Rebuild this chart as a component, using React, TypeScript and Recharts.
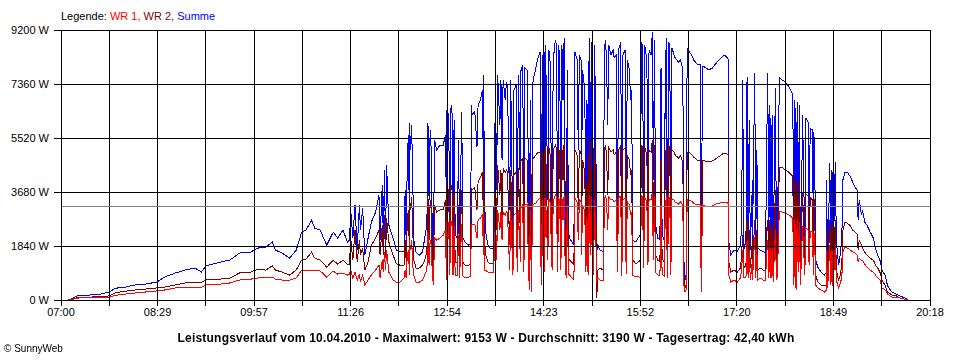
import React from 'react';
import { LineChart, Line, XAxis, YAxis, ReferenceLine } from 'recharts';

// minutes after 07:00
const TIME = [
  7, 13, 17, 27, 36, 44, 50, 59, 68, 77, 88, 95, 105, 114, 123, 129, 133, 146, 155, 164,
  174, 181, 188, 194, 197, 203, 210, 216, 221, 225, 230, 233, 238, 244, 250, 254, 259, 263, 265,
  266, 268, 270, 272, 274, 275, 277, 279, 282, 285, 289, 292, 293, 295, 296, 297, 298, 299, 301, 305,
  308, 311, 315, 316, 317, 318, 319, 320, 320, 321, 322, 323, 324, 326, 329, 332, 334, 336, 337, 338,
  339, 340, 341, 342, 343, 345, 348, 351, 353,
  354, 354, 356, 357, 358, 359, 360, 361, 362, 364, 365, 366, 368, 369, 371, 374, 376, 377, 377, 380,
  382, 383, 385, 387, 388, 388, 389, 390, 392, 394, 397, 398, 399, 399, 400, 401, 403, 404, 405, 406,
  408, 409, 410, 412, 413, 415, 416, 418, 419, 420, 422, 422, 424, 425, 426, 428, 429, 430, 431, 432,
  433, 434, 436, 438, 440, 441, 442, 443, 444, 444, 445, 447, 448, 449, 451, 452,
  454, 455, 456, 457, 458, 459, 460, 461, 462, 463, 464, 465, 466, 467, 469, 471, 472, 474, 475, 476,
  478, 478, 479, 481, 482, 483, 484, 485, 486, 487, 488, 489, 490, 491, 492, 493, 495, 498, 499, 500,
  501, 502, 503, 505, 507, 508, 510, 511, 511, 512, 514, 515, 516, 518, 519, 520, 522, 523, 524, 525,
  528, 530, 532, 533, 534, 535, 536, 538, 539, 540, 542, 543, 544, 545, 546, 548, 550,
  551, 552, 554, 555, 556, 556, 557, 558, 559, 560, 561, 563, 564, 567, 569, 571, 572, 573, 574, 575,
  576, 579, 581, 584, 587, 588, 589, 591, 595, 598, 601, 605, 609, 612, 613, 613, 615, 618, 621, 624,
  625,
  626, 627, 629, 630, 631, 632, 633, 635, 635, 637, 638, 639, 640, 642, 645, 647, 648, 649, 650, 651,
  652, 653, 654, 656, 657, 658, 659, 660, 662, 665, 668, 670, 672, 673, 674, 675, 676, 677, 678, 679,
  680, 681, 683, 684, 686, 687, 688, 690, 691, 691, 692, 693, 695, 698, 701, 703, 703, 704, 706, 707,
  708, 709, 711, 712, 714, 715, 717, 718, 720, 722, 725, 727, 729, 731, 732, 733, 735, 736, 738, 740,
  743, 746, 748, 750, 752, 754, 757, 759, 763, 767, 770, 775, 778,
];

const SUMME = [
  0, 100, 170, 170, 200, 270, 400, 440, 510, 540, 610, 780, 920, 1020, 1090, 950, 1160, 1290, 1360, 1600,
  1630, 1770, 1800, 1970, 1700, 1600, 1430, 1700, 2310, 2380, 2720, 2450, 2380, 1870, 2310, 2110, 2380, 1970, 2040,
  3070, 2110, 3240, 1700, 3240, 2380, 3130, 1530, 2110, 2660, 3000, 3580, 2040, 3920, 2110, 4430, 1870, 4600, 2560, 2110,
  1700, 1640, 1640, 3750, 1870, 4770, 5620, 2380, 6030, 5110, 5960, 4090, 2040, 1640, 1530, 1640, 2110, 2560, 6030, 3410,
  5790, 5110, 2040, 1530, 5450, 5110, 5280, 5280, 5620,
  3070, 6470, 6300, 2380, 6540, 6640, 2320, 6130, 2210, 2110, 5450, 2040, 6410, 2110, 1980, 1870, 1910, 6640, 6300, 6410,
  5210, 6640, 6810, 7150, 4090, 7670, 3410, 2320, 1870, 1770, 1770, 4020, 7670, 7430, 3750, 7670, 5960, 7500, 4770, 7500,
  6810, 7430, 7330, 3070, 7500, 1870, 7150, 7330, 2040, 7670, 3410, 7770, 8010, 2320, 7900, 7840, 5110, 850, 6810, 750,
  7330, 7560, 7900, 8250, 8450, 1020, 8350, 850, 8450, 2040, 8690, 3410, 8520, 8350, 2210, 8180,
  8860, 8690, 2730, 8690, 8180, 2560, 8690, 6810, 8930, 3070, 1700, 7840, 2320, 2110, 1980, 1870, 8450, 8180, 5110, 8350,
  8110, 4090, 7840, 7150, 2380, 6810, 2210, 8930, 4090, 8790, 2320, 2110, 8690, 5960, 1640, 1870, 1700, 1640, 8520, 8860,
  8180, 5960, 8690, 8350, 8520, 8250, 8350, 2730, 2380, 8520, 8790, 2040, 8350, 8520, 2210, 8180, 7840, 6810, 7150, 2040,
  1980, 2110, 2210, 8790, 8690, 3070, 8690, 8180, 3410, 8520, 8350, 9130, 4090, 8860, 2560, 2110, 2040,
  7900, 2210, 2040, 8520, 4430, 8930, 2040, 8790, 8690, 2380, 8590, 8350, 8250, 8110, 8180, 7840, 1360, 680, 850, 8590,
  8520, 8350, 8180, 8040, 8010, 610, 7970, 7940, 7840, 7900, 8040, 8210, 8350, 8250, 8180, 2040, 1530, 1700, 1640, 1870,
  2560,
  7500, 1700, 2040, 7600, 1870, 6130, 1700, 4090, 1870, 7730, 2040, 5110, 1770, 1700, 1640, 1600, 5110, 7730, 2040, 6640,
  1700, 6300, 1360, 7220, 1870, 2040, 6130, 7560, 7500, 7430, 7290, 7150, 6980, 1360, 6810, 850, 6750, 2040, 6640, 1190,
  3410, 6300, 2040, 6200, 6060, 2730, 5860, 5790, 2040, 5720, 5380, 1360, 1120, 950, 850, 950, 4090, 1020, 4670, 1360,
  4430, 1190, 4700, 2040, 1190, 1360, 2040, 4090, 4360, 4360, 4190, 4020, 3850, 3750, 2730, 3410, 2900, 3070, 2660, 2560,
  2320, 2110, 1770, 1530, 1360, 1020, 820, 480, 270, 200, 140, 70, 0,
];

const WR2 = [
  0, 60, 100, 100, 110, 140, 250, 300, 340, 370, 410, 440, 510, 580, 610, 610, 680, 710, 750, 920,
  950, 1050, 1020, 1160, 1020, 950, 850, 1020, 1360, 1390, 1630, 1430, 1360, 1120, 1360, 1220, 1360, 1220, 1220,
  2110, 1360, 2380, 1290, 2040, 1530, 1770, 1020, 1290, 1870, 2110, 2380, 1530, 2560, 1530, 2900, 1430, 2790, 1980, 1530,
  1230, 1190, 1190, 2040, 1290, 2730, 3070, 1530, 3510, 3070, 3510, 2380, 1360, 1090, 1090, 1190, 1360, 1640, 3510, 2040,
  3410, 3070, 1360, 1020, 3240, 3000, 3070, 3070, 3410,
  1020, 3820, 3750, 1360, 3850, 3920, 1360, 3680, 1290, 1290, 3240, 1230, 3750, 1290, 1190, 1160, 1230, 3820, 3750, 3820,
  3070, 4020, 4160, 4360, 2560, 4500, 2040, 1530, 1290, 1230, 1230, 2380, 4600, 4430, 2380, 4600, 3580, 4430, 2900, 4500,
  4360, 4430, 4360, 1870, 4430, 1230, 4260, 4360, 1360, 4500, 2040, 4700, 4840, 1530, 4840, 4770, 3070, 680, 4430, 610,
  4770, 4840, 4940, 5040, 5040, 850, 5040, 750, 5110, 1360, 5280, 2040, 5180, 5110, 1530, 5110,
  5280, 5180, 1700, 5180, 4940, 1640, 5180, 4090, 5380, 1870, 1160, 4770, 1430, 1360, 1290, 1190, 5110, 4940, 3070, 5110,
  4940, 2560, 4770, 4360, 1530, 4090, 1360, 5450, 2380, 5380, 1530, 1360, 5180, 3750, 70, 1020, 1090, 1020, 5110, 5280,
  4940, 3580, 5180, 5040, 5110, 4940, 5040, 1700, 1530, 5110, 5280, 1290, 5110, 5180, 1430, 4940, 4770, 4260, 4430, 1360,
  1230, 1290, 1360, 5280, 5210, 1870, 5210, 4940, 2040, 5110, 5040, 5450, 2380, 5280, 1530, 1360, 1290,
  4770, 1430, 1290, 5110, 2730, 5380, 1290, 5280, 5180, 1360, 5110, 5040, 4940, 4840, 4910, 4700, 850, 410, 510, 5040,
  5040, 4970, 4870, 4770, 4770, 410, 4770, 4740, 4700, 4740, 4800, 4910, 5010, 4970, 4940, 1360, 950, 1020, 950, 1090,
  1530,
  2210, 1090, 1190, 2730, 1160, 2380, 1090, 2040, 1090, 2730, 1190, 2380, 1020, 1090, 1020, 1020, 2380, 2730, 1190, 2730,
  1020, 2560, 950, 3750, 1190, 1290, 3750, 4530, 4530, 4430, 4360, 4290, 4220, 850, 4160, 680, 4090, 1360, 4020, 850,
  2380, 3680, 1360, 3610, 3540, 1870, 3480, 3410, 1360, 3410, 3410, 850, 610, 510, 480, 510, 2380, 610, 2730, 750,
  2560, 680, 2730, 1020, 680, 750, 1190, 2380, 2660, 2620, 2520, 2380, 2320, 2250, 1700, 2040, 1870, 1770, 1640, 1530,
  1430, 1360, 1190, 1090, 950, 680, 480, 270, 170, 140, 70, 30, 0,
];

const WR1 = [
  0, 40, 70, 70, 90, 100, 160, 200, 240, 270, 310, 340, 410, 410, 440, 440, 510, 540, 580, 680,
  710, 750, 750, 780, 710, 680, 680, 750, 1020, 1020, 1020, 1020, 990, 780, 990, 880, 920, 850, 880,
  1020, 750, 950, 680, 890, 610, 850, 510, 680, 850, 1020, 1190, 750, 1360, 950, 1640, 1020, 1700, 950, 680,
  610, 610, 750, 1020, 750, 1530, 1700, 850, 2040, 1700, 2040, 1190, 850, 610, 610, 680, 850, 1020, 2320, 1190,
  2040, 1870, 850, 510, 2110, 2040, 2110, 2210, 2380,
  680, 2660, 2620, 850, 2660, 2660, 850, 2520, 820, 820, 2210, 750, 2590, 820, 750, 750, 820, 2590, 2560, 2590,
  2110, 2730, 2790, 2900, 1530, 3000, 1020, 1020, 950, 950, 950, 1530, 3070, 3000, 1360, 3070, 2380, 3000, 2040, 3000,
  2900, 3000, 2960, 1020, 3000, 850, 2900, 2960, 950, 3070, 1290, 3130, 3240, 950, 3240, 3240, 1700, 340, 3070, 270,
  3240, 3270, 3300, 3410, 3480, 510, 3410, 410, 3480, 950, 3480, 1360, 3410, 3410, 1020, 3340,
  3580, 3510, 950, 3510, 3340, 1020, 3510, 2730, 3580, 1090, 750, 3240, 890, 850, 750, 680, 3480, 3340, 2040, 3410,
  3340, 1530, 3240, 3000, 950, 2790, 850, 3580, 1530, 3510, 950, 850, 3410, 2380, 680, 750, 680, 680, 3410, 3580,
  3340, 2380, 3510, 3410, 3410, 3340, 3410, 1020, 950, 3480, 3540, 820, 3410, 3480, 890, 3340, 3240, 2900, 3000, 850,
  780, 820, 750, 3580, 3510, 1090, 3510, 3340, 1190, 3410, 3410, 3680, 1360, 3540, 950, 850, 820,
  3240, 890, 820, 3410, 1700, 3580, 750, 3540, 3480, 850, 3410, 3410, 3340, 3270, 3340, 3240, 510, 270, 340, 3410,
  3410, 3370, 3300, 3240, 3240, 270, 3240, 3200, 3170, 3200, 3270, 3300, 3340, 3300, 3340, 890, 610, 680, 610, 750,
  1020,
  1700, 750, 750, 2040, 750, 1700, 680, 1360, 680, 2150, 750, 1700, 680, 750, 680, 680, 1530, 2040, 750, 1870,
  750, 1770, 610, 2380, 680, 820, 2560, 3000, 3000, 2960, 2900, 2860, 2790, 510, 2730, 340, 2730, 950, 2660, 510,
  1530, 2520, 850, 2450, 2380, 1190, 2320, 2320, 850, 2250, 2250, 510, 410, 340, 270, 340, 1700, 410, 1870, 510,
  1700, 410, 1870, 680, 410, 510, 750, 1640, 1810, 1770, 1700, 1640, 1600, 1530, 1290, 1430, 1360, 1360, 1230, 1120,
  1020, 950, 850, 750, 680, 410, 340, 200, 100, 70, 70, 30, 0,
];

const X_LABELS = ['07:00', '08:29', '09:57', '11:26', '12:54', '14:23', '15:52', '17:20', '18:49', '20:18'];
const Y_TICKS = [0, 1840, 3680, 5520, 7360, 9200];
const AVERAGE = 3190;
const SPAN = 798; // 07:00 .. 20:18

const data = TIME.map((t, i) => ({ t, summe: SUMME[i], wr2: WR2[i], wr1: WR1[i] }));
// grid every half label step
const xTicks = Array.from({ length: 19 }, (_, i) => (i * SPAN) / 18);

const font = '"Liberation Sans", Arial, sans-serif';
const tickStyle = { fill: '#000', fontSize: 11, fontFamily: font };

export default function App() {
  return (
    <div
      style={{
        position: 'fixed',
        left: 0,
        top: 0,
        width: 960,
        height: 360,
        background: '#fff',
        fontFamily: font,
        shapeRendering: 'crispEdges',
      }}
    >
      <div style={{ position: 'absolute', left: 61, top: 10, fontSize: 11, lineHeight: '13px' }}>
        Legende: <span style={{ color: '#ff0000' }}>WR 1,</span>{' '}
        <span style={{ color: '#800000' }}>WR 2,</span>{' '}
        <span style={{ color: '#0000ff' }}>Summe</span>
      </div>
      <LineChart width={960} height={360} data={data} margin={{ top: 30, right: 30, bottom: 40, left: 0 }}>
        <XAxis
          dataKey="t"
          type="number"
          domain={[0, SPAN]}
          ticks={xTicks}
          interval={0}
          tickFormatter={(v, i) => (i % 2 === 0 ? X_LABELS[i / 2] : '')}
          tickSize={6}
          height={20}
          stroke="#000"
          tick={tickStyle}
        />
        <YAxis
          type="number"
          domain={[0, 9200]}
          ticks={Y_TICKS}
          interval={0}
          width={61}
          tickSize={7}
          tickMargin={5}
          tickFormatter={(v) => `${v} W`}
          stroke="#000"
          tick={tickStyle}
        />
        <Line dataKey="summe" stroke="#0000ff" strokeWidth={1} dot={false} type="linear" isAnimationActive={false} />
        <Line dataKey="wr2" stroke="#800000" strokeWidth={1} dot={false} type="linear" isAnimationActive={false} />
        <Line dataKey="wr1" stroke="#ff0000" strokeWidth={1} dot={false} type="linear" isAnimationActive={false} />
        {Y_TICKS.map((v) => (
          <ReferenceLine key={`y${v}`} y={v} stroke="#000" />
        ))}
        {xTicks.map((v) => (
          <ReferenceLine key={`x${v}`} x={v} stroke="#000" />
        ))}
        <ReferenceLine y={AVERAGE} stroke="#808080" />
      </LineChart>
      <div
        style={{
          position: 'absolute',
          left: 0,
          width: 972,
          top: 331,
          textAlign: 'center',
          fontSize: 12,
          letterSpacing: 0.2,
          fontWeight: 'bold',
          lineHeight: '14px',
        }}
      >
        Leistungsverlauf vom 10.04.2010 - Maximalwert: 9153 W - Durchschnitt: 3190 W - Tagesertrag: 42,40 kWh
      </div>
      <div style={{ position: 'absolute', left: 4, top: 343, fontSize: 10, lineHeight: '12px' }}>© SunnyWeb</div>
    </div>
  );
}
